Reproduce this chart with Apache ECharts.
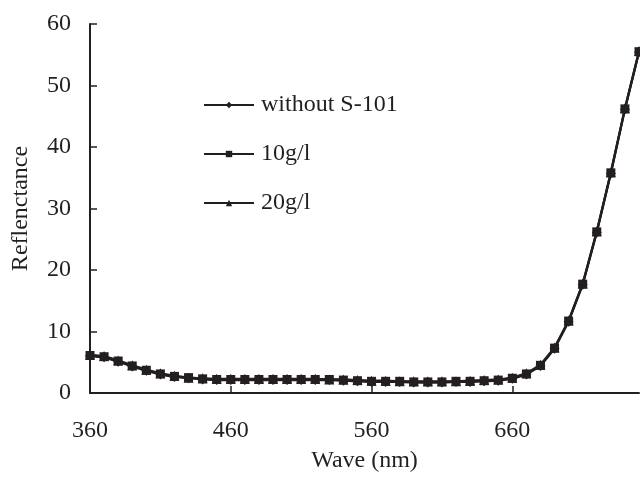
<!DOCTYPE html>
<html>
<head>
<meta charset="utf-8">
<script src="https://cdn.jsdelivr.net/npm/echarts@6/dist/echarts.min.js"></script>
<style>
html,body{margin:0;padding:0;background:#fff;}
#chart{width:640px;height:478px;}
</style>
</head>
<body>
<div id="chart"></div>
<script>
var wavelengths = [360,370,380,390,400,410,420,430,440,450,460,470,480,490,500,510,520,530,540,550,560,570,580,590,600,610,620,630,640,650,660,670,680,690,700,710,720,730,740,750];
var withoutS101 = [6.0,5.8,5.1,4.3,3.6,3.0,2.6,2.4,2.2,2.1,2.1,2.1,2.1,2.1,2.1,2.1,2.1,2.1,2.0,1.9,1.8,1.8,1.8,1.7,1.7,1.7,1.8,1.8,1.9,2.0,2.3,3.0,4.4,7.2,11.6,17.6,26.1,35.7,46.1,55.4];
var g10 = [6.1,5.9,5.2,4.4,3.7,3.1,2.7,2.5,2.3,2.2,2.2,2.2,2.2,2.2,2.2,2.2,2.2,2.2,2.1,2.0,1.9,1.9,1.9,1.8,1.8,1.8,1.9,1.9,2.0,2.1,2.4,3.1,4.5,7.3,11.7,17.7,26.2,35.8,46.2,55.5];
var g20 = [6.2,6.0,5.3,4.5,3.8,3.2,2.8,2.5,2.4,2.3,2.3,2.3,2.3,2.3,2.3,2.3,2.3,2.2,2.2,2.1,2.0,2.0,1.9,1.9,1.9,1.9,1.9,2.0,2.1,2.2,2.5,3.2,4.6,7.4,11.8,17.8,26.3,35.9,46.3,55.6];
var seriesNames = ['without S-101','10g/l','20g/l'];
var xTickValues = [360,460,560,660];

function pairs(ys){ return wavelengths.map(function(x,i){ return [x, ys[i]]; }); }

var ink = '#231f20';
var font = 'Liberation Serif';
var fs = 24;
var chart = echarts.init(document.getElementById('chart'));
chart.setOption({
  animation: false,
  backgroundColor: '#fff',
  textStyle: { fontFamily: font, color: ink },
  grid: { left: 90, right: 1, top: 24, bottom: 81, containLabel: false },
  legend: {
    orient: 'vertical', left: 198, top: 88,
    itemWidth: 50, itemHeight: 8, itemGap: 25,
    textStyle: { fontFamily: font, fontSize: fs, color: ink, padding: [0,0,0,2] },
    data: seriesNames
  },
  xAxis: {
    type: 'value', min: 360, max: 750, interval: 100,
    name: 'Wave (nm)', nameLocation: 'middle', nameGap: 56,
    nameTextStyle: { fontFamily: font, fontSize: fs, color: ink },
    axisLine: { lineStyle: { color: ink, width: 2 } },
    axisTick: { inside: true, length: 7, lineStyle: { color: ink, width: 1.5 }, customValues: xTickValues },
    axisLabel: { fontFamily: font, fontSize: fs, color: ink, margin: 26, customValues: xTickValues },
    splitLine: { show: false }
  },
  yAxis: {
    type: 'value', min: 0, max: 60, interval: 10,
    name: 'Reflenctance', nameLocation: 'middle', nameGap: 57, nameRotate: 90,
    nameTextStyle: { fontFamily: font, fontSize: fs, color: ink },
    axisLine: { show: true, lineStyle: { color: ink, width: 2 } },
    axisTick: { show: true, inside: true, length: 7, lineStyle: { color: ink, width: 1.5 } },
    axisLabel: { fontFamily: font, fontSize: fs, color: ink, margin: 19 },
    splitLine: { show: false }
  },
  series: [
    { name: seriesNames[0], type: 'line', data: pairs(withoutS101), symbol: 'diamond', symbolSize: 10,
      lineStyle: { color: ink, width: 2.2 }, itemStyle: { color: ink }, z: 2 },
    { name: seriesNames[2], type: 'line', data: pairs(g20), symbol: 'triangle', symbolSize: 10,
      lineStyle: { color: ink, width: 2.2 }, itemStyle: { color: ink }, z: 3 },
    { name: seriesNames[1], type: 'line', data: pairs(g10), symbol: 'rect', symbolSize: 9,
      lineStyle: { color: ink, width: 2.2 }, itemStyle: { color: ink }, z: 4 }
  ]
});
</script>
</body>
</html>
